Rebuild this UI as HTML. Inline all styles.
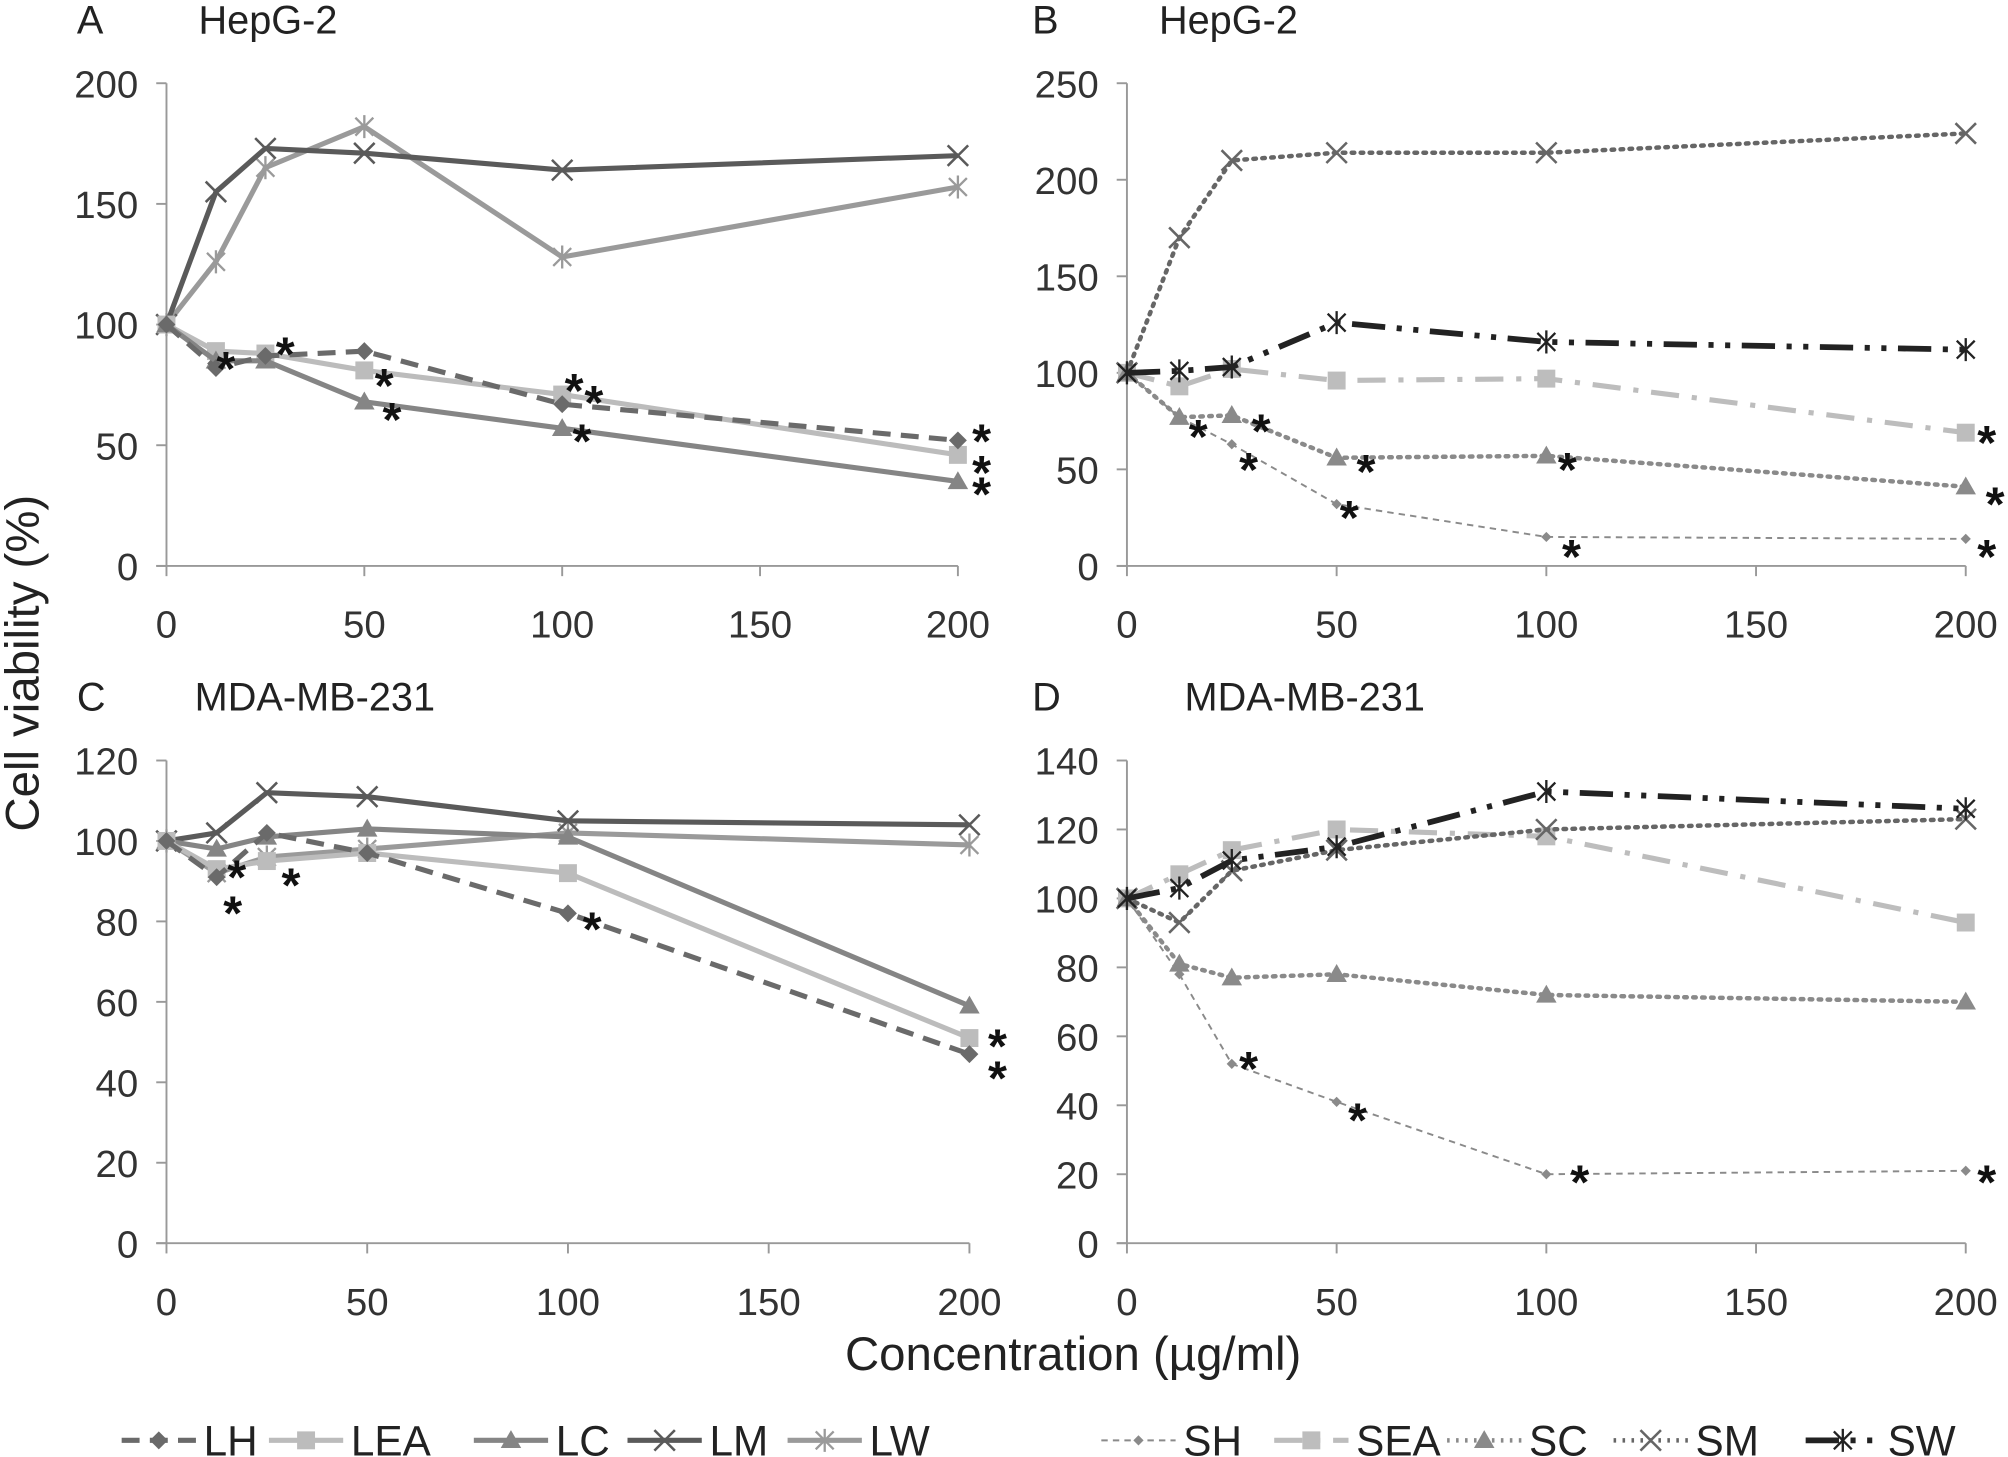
<!DOCTYPE html>
<html><head><meta charset="utf-8"><style>
html,body{margin:0;padding:0;background:#fff}
svg{display:block;font-family:"Liberation Sans",sans-serif}
</style></head><body>
<svg id="chart" width="2008" height="1457" viewBox="0 0 1568 1138" preserveAspectRatio="none" xmlns="http://www.w3.org/2000/svg">
<rect width="1568" height="1138" fill="#fff"/>
<g id="root"></g>
</svg>
<script>
const conc = [0, 12.5, 25, 50, 100, 200];
const xTicks = [0, 50, 100, 150, 200];
// Panel A
const aLH = [100, 82, 87, 89, 67, 52];
const aLEA = [100, 89, 88, 81, 71, 46];
const aLC = [100, 85, 85, 68, 57, 35];
const aLM = [100, 155, 173, 171, 164, 170];
const aLW = [100, 126, 165, 182, 128, 157];
const aStars = [[15,85],[30,91],[55,78],[57,64],[103,76],[108,71],[105,55],[206,55],[206,42],[206,33]];
const aYTicks = [0, 50, 100, 150, 200];
// Panel B
const bSH = [100, 77, 63, 32, 15, 14];
const bSEA = [100, 93, 102, 96, 97, 69];
const bSC = [100, 77, 78, 56, 57, 41];
const bSM = [100, 170, 210, 214, 214, 224];
const bSW = [100, 101, 103, 126, 116, 112];
const bStars = [[17,71],[29,54],[32,74],[57,53],[53,29],[105,54],[106,9],[205,68],[207,36],[205,9]];
const bYTicks = [0, 50, 100, 150, 200, 250];
// Panel C
const cLH = [100, 91, 102, 97, 82, 47];
const cLEA = [100, 93, 95, 97, 92, 51];
const cLC = [100, 98, 101, 103, 101, 59];
const cLM = [100, 102, 112, 111, 105, 104];
const cLW = [100, 92, 96, 98, 102, 99];
const cStars = [[17.5,93],[16.5,84],[31,91],[106,80],[207,51],[207,43]];
const cYTicks = [0, 20, 40, 60, 80, 100, 120];
// Panel D
const dSH = [100, 78, 52, 41, 20, 21];
const dSEA = [100, 107, 114, 120, 118, 93];
const dSC = [100, 81, 77, 78, 72, 70];
const dSM = [100, 93, 108, 114, 120, 123];
const dSW = [100, 103, 111, 115, 131, 126];
const dStars = [[29,53],[55,38],[108,20],[205,20]];
const dYTicks = [0, 20, 40, 60, 80, 100, 120, 140];

const NS = "http://www.w3.org/2000/svg";
const root = document.getElementById('root');
function mk(tag, attrs, parent){
  const e = document.createElementNS(NS, tag);
  for (const k in attrs) e.setAttribute(k, attrs[k]);
  (parent||root).appendChild(e); return e;
}
const styles = {
  LH:{c:'#6a6a6a',w:4,d:'14 8',m:'diamond'},
  LEA:{c:'#bcbcbc',w:4,d:'',m:'square'},
  LC:{c:'#858585',w:4,d:'',m:'triangle'},
  LM:{c:'#5a5a5a',w:4,d:'',m:'x'},
  LW:{c:'#9a9a9a',w:4,d:'',m:'star'},
  SH:{c:'#8a8a8a',w:1.5,d:'5 4',m:'dot'},
  SEA:{c:'#bdbdbd',w:4,d:'22 10 4 10',m:'square'},
  SC:{c:'#8a8a8a',w:3.5,d:'2 5',m:'triangle'},
  SM:{c:'#666',w:3.5,d:'2 5',m:'x'},
  SW:{c:'#222',w:4.5,d:'26 9 4 9 4 9',m:'star'}
};
function marker(g, m, x, y, c){
  let e;
  if (m==='diamond') e = mk('polygon',{points:`${x},${y-7} ${x+7},${y} ${x},${y+7} ${x-7},${y}`,fill:c},g);
  else if (m==='square') e = mk('rect',{x:x-7,y:y-7,width:14,height:14,fill:c},g);
  else if (m==='triangle') e = mk('polygon',{points:`${x},${y-8} ${x+8},${y+6} ${x-8},${y+6}`,fill:c},g);
  else if (m==='dot') e = mk('polygon',{points:`${x},${y-4} ${x+4},${y} ${x},${y+4} ${x-4},${y}`,fill:c},g);
  else if (m==='x') e = mk('path',{d:`M${x-8} ${y-8}L${x+8} ${y+8}M${x+8} ${y-8}L${x-8} ${y+8}`,stroke:c,'stroke-width':2,fill:'none'},g);
  else e = mk('path',{d:`M${x-7} ${y-7}L${x+7} ${y+7}M${x+7} ${y-7}L${x-7} ${y+7}M${x} ${y-9}L${x} ${y+9}`,stroke:c,'stroke-width':1.8,fill:'none'},g);
  
  
}
function panel(p){
  const g = mk('g',{});
  
  
  const sx = v => p.x0 + (v/200)*(p.x1-p.x0);
  const sy = v => p.y0 - (v/p.ymax)*(p.y0-p.y1);
  const ya = mk('line',{x1:p.x0,y1:p.y1,x2:p.x0,y2:p.y0,stroke:'#999','stroke-width':1.5},g);
   
  const xa = mk('line',{x1:p.x0-8,y1:p.y0,x2:p.x1,y2:p.y0,stroke:'#999','stroke-width':1.5},g);
   
  p.yt.forEach(v=>{
    mk('line',{x1:p.x0-8,y1:sy(v),x2:p.x0,y2:sy(v),stroke:'#999','stroke-width':1.5},g);
    const t = mk('text',{x:p.x0-22,y:sy(v)+11,'text-anchor':'end','font-size':30,fill:'#333'},g);
    t.textContent = v;
     
  });
  xTicks.forEach(v=>{
    mk('line',{x1:sx(v),y1:p.y0,x2:sx(v),y2:p.y0+8,stroke:'#999','stroke-width':1.5},g);
    const t = mk('text',{x:sx(v),y:p.y0+56,'text-anchor':'middle','font-size':30,fill:'#333'},g);
    t.textContent = v;
     
  });
  const l = mk('text',{x:p.lx,y:p.ty,'font-size':31,fill:'#222'},g); l.textContent=p.id;
   
  const tt = mk('text',{x:p.tx,y:p.ty,'font-size':31,fill:'#222'},g); tt.textContent=p.title;
   
  p.series.forEach(([name,vals])=>{
    const s = styles[name];
    const sg = mk('g',{},g);
    
    
    const pts = vals.map((v,i)=>sx(conc[i])+','+sy(v)).join(' ');
    const pl = mk('polyline',{points:pts,fill:'none',stroke:s.c,'stroke-width':s.w,'stroke-dasharray':s.d,'stroke-linecap':s.d.startsWith('2 ')?'round':'butt','stroke-linejoin':'round'},sg);
    
    
    vals.forEach((v,i)=>marker(sg,s.m,sx(conc[i]),sy(v),s.c));
  });
  p.stars.forEach(([x,y])=>{
    const t = mk('text',{x:sx(x),y:sy(y)+19,'text-anchor':'middle','font-size':38,'font-weight':'bold',fill:'#111'},g);
    t.textContent='*';
     
  });
}
panel({id:'A',title:'HepG-2',x0:130,x1:748,y0:442,y1:65,ymax:200,yt:aYTicks,lx:60,tx:155,ty:26,
  series:[['LW',aLW],['LM',aLM],['LEA',aLEA],['LC',aLC],['LH',aLH]],stars:aStars});
panel({id:'B',title:'HepG-2',x0:880,x1:1535,y0:442,y1:65,ymax:250,yt:bYTicks,lx:806,tx:905,ty:26,
  series:[['SH',bSH],['SEA',bSEA],['SC',bSC],['SM',bSM],['SW',bSW]],stars:bStars});
panel({id:'C',title:'MDA-MB-231',x0:130,x1:757,y0:971,y1:594,ymax:120,yt:cYTicks,lx:60,tx:152,ty:555,
  series:[['LW',cLW],['LM',cLM],['LC',cLC],['LEA',cLEA],['LH',cLH]],stars:cStars});
panel({id:'D',title:'MDA-MB-231',x0:880,x1:1535,y0:971,y1:594,ymax:140,yt:dYTicks,lx:806,tx:925,ty:555,
  series:[['SH',dSH],['SEA',dSEA],['SC',dSC],['SM',dSM],['SW',dSW]],stars:dStars});

const yt = mk('text',{x:0,y:0,transform:'translate(30,518) rotate(-90)','text-anchor':'middle','font-size':37,fill:'#222'});
yt.textContent='Cell viability (%)';
 
const xt = mk('text',{x:838,y:1070,'text-anchor':'middle','font-size':37,fill:'#222'});
xt.textContent='Concentration (µg/ml)';
 

const legendNames = ['LH','LEA','LC','LM','LW','SH','SEA','SC','SM','SW'];
const legendX = [95,210,370,490,615,860,995,1130,1260,1410];
legendNames.forEach((n,i)=>{
  const s = styles[n];
  const lg = mk('g',{});
  
  
  const x = legendX[i], y = 1125;
  mk('line',{x1:x,y1:y,x2:x+58,y2:y,stroke:s.c,'stroke-width':s.w,'stroke-dasharray':s.d},lg);
  marker(lg,s.m,x+29,y,s.c);
  const t = mk('text',{x:x+64,y:y+12,'font-size':33,fill:'#222'},lg);
  t.textContent=n;
});
</script>
</body></html>
